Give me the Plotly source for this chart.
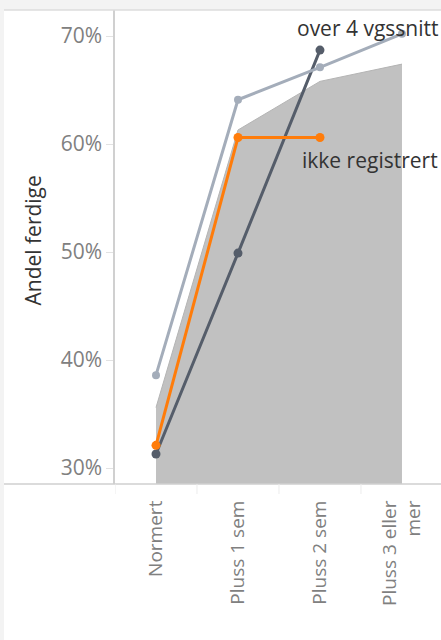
import plotly.graph_objects as go

# values
categories = ["Normert", "Pluss 1 sem", "Pluss 2 sem", "Pluss 3 eller<br>mer"]
snitt_alle = [0.356, 0.613, 0.658, 0.674]       # grey area
over_4 = [0.386, 0.641, 0.671, 0.702]           # light blue-grey line
under_4 = [0.313, 0.499, 0.687, None]           # dark slate line
ikke_registrert = [0.321, 0.606, 0.606, None]   # orange line

FONT = "Open Sans"
GREY_TXT = "#808080"

fig = go.Figure()

fig.add_trace(go.Scatter(
    x=categories, y=snitt_alle, mode="lines", fill="tozeroy",
    fillcolor="#c1c1c1", line=dict(color="#b4b4b4", width=1),
    hoverinfo="skip", showlegend=False,
))
fig.add_trace(go.Scatter(
    x=categories, y=under_4, mode="lines+markers",
    line=dict(color="#555d6a", width=3), marker=dict(size=9, color="#555d6a"),
    showlegend=False,
))
fig.add_trace(go.Scatter(
    x=categories, y=over_4, mode="lines+markers",
    line=dict(color="#a4adba", width=3), marker=dict(size=8, color="#a4adba"),
    showlegend=False,
))
fig.add_trace(go.Scatter(
    x=categories, y=ikke_registrert, mode="lines+markers",
    line=dict(color="#ff7c0a", width=3), marker=dict(size=9, color="#ff7c0a"),
    showlegend=False,
))

# end labels
fig.add_annotation(x=1, xref="paper", xanchor="right", xshift=-1,
                   y=over_4[3], yref="y", yanchor="middle", yshift=6,
                   text="over 4 vgssnitt", showarrow=False,
                   font=dict(family=FONT, size=21, color="#333333"))
fig.add_annotation(x=1, xref="paper", xanchor="right", xshift=-1,
                   y=ikke_registrert[2], yref="y", yanchor="middle", yshift=-22,
                   text="ikke registrert", showarrow=False,
                   font=dict(family=FONT, size=21, color="#333333"))

# y axis title
fig.add_annotation(x=-0.253, xref="paper", xanchor="center", y=0.5, yref="paper",
                   yanchor="middle", yshift=6,
                   text="Andel ferdige", textangle=-90, showarrow=False,
                   font=dict(family=FONT, size=21, color="#333333"))

shapes = [
    # dashboard borders
    dict(type="rect", xref="paper", yref="paper", x0=-0.36, x1=1.01, y0=1.0, y1=1.03,
         fillcolor="#f3f3f3", line=dict(width=0), layer="below"),
    dict(type="rect", xref="paper", yref="paper", x0=-0.36, x1=-0.3405, y0=-0.4, y1=1.03,
         fillcolor="#f3f3f3", line=dict(width=0), layer="below"),
    dict(type="line", xref="paper", yref="paper", x0=-0.3405, x1=1.01, y0=1.0, y1=1.0,
         line=dict(color="#dcdcdc", width=1.5)),
    # horizontal axis line across the full width
    dict(type="line", xref="paper", yref="paper", x0=-0.3405, x1=1.01, y0=0, y1=0,
         line=dict(color="#cfcfcf", width=1.5)),
]
# cell dividers below the x axis
for i in range(len(categories)):
    shapes.append(dict(type="line", xref="x", yref="paper", x0=i - 0.5, x1=i - 0.5,
                       ysizemode="pixel", yanchor=0, y0=0, y1=-10,
                       line=dict(color="#ececec", width=1)))

fig.update_layout(
    width=441, height=640,
    margin=dict(l=115, r=0, t=10, b=156),
    paper_bgcolor="white", plot_bgcolor="white",
    font=dict(family=FONT, size=19, color=GREY_TXT),
    shapes=shapes,
    xaxis=dict(
        type="category", range=[-0.5, 3.476],
        showgrid=False, zeroline=False, showline=False,
        tickangle=-90, ticks="outside", ticklen=8, tickcolor="rgba(0,0,0,0)",
        tickfont=dict(family=FONT, size=19, color=GREY_TXT),
    ),
    yaxis=dict(
        range=[0.2852, 0.7241], tickvals=[0.3, 0.4, 0.5, 0.6, 0.7], tickformat=".0%",
        showgrid=False, zeroline=False,
        showline=True, linecolor="#d0d0d0", linewidth=1.5,
        ticks="outside", ticklen=7, tickcolor="#e2e2e2",
        tickfont=dict(family=FONT, size=21, color=GREY_TXT),
    ),
)

# drop the default page margin so the figure fills the window exactly
fig.write_html(
    "out.html",
    config={"displayModeBar": False},
    post_script="document.body.style.margin='0';document.body.style.overflow='hidden';",
)
